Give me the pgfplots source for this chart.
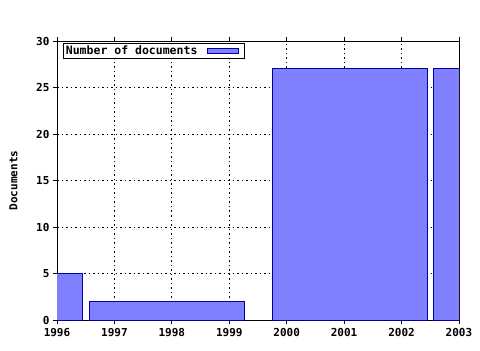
\documentclass[border=0pt]{standalone}
\usepackage{fontspec}
\setmainfont{DejaVu Sans Mono}
\usepackage{pgfplots}
\pgfplotsset{compat=1.18}
\definecolor{barfill}{RGB}{128,128,255}
\definecolor{barline}{RGB}{0,0,160}
\begin{document}
\begin{tikzpicture}
\begin{axis}[
  scale only axis,
  width=402pt, height=279pt,
  xmin=1996, xmax=2003, ymin=0, ymax=30,
  xtick={1996,1997,...,2003},
  ytick={0,5,...,30},
  minor x tick num=6,
  xticklabel style={/pgf/number format/1000 sep={}},
  /pgf/number format/assume math mode=true,
  tick label style={font=\bfseries\fontsize{11}{12}\selectfont},
  label style={font=\bfseries\fontsize{11}{12}\selectfont},
  tick align=outside,
  xtick pos=both, ytick pos=left,
  major tick length=4pt, minor tick length=2.5pt,
  every tick/.style={black, line width=0.8pt},
  axis line style={black, line width=0.8pt},
  grid=major,
  major grid style={black, line width=0.8pt, dash pattern=on 1.5pt off 3pt},
  ylabel={Documents},
  ylabel style={at={(axis description cs:0,0.5)}, anchor=south, yshift=36pt},
  xticklabel style={yshift=-1pt},
  legend style={at={(axis cs:1996.12,29.7)}, anchor=north west, draw=black, line width=0.8pt,
    font=\bfseries\fontsize{11.5}{12}\selectfont, inner sep=0pt, outer sep=0pt,
    legend cell align=left},
  legend plot pos=right,
  legend image code/.code={\path (0pt,0pt); \draw[fill=barfill, draw=barline, line width=0.8pt] (8pt,-2.5pt) rectangle (39pt,2.5pt); \path (44pt,0pt);},
]
\addplot[ybar, bar width=2.7, bar shift=0pt, fill=barfill, draw=barline, line width=0.8pt]
  coordinates {(1995.1,5) (1997.91,2) (2001.1,27) (2003.9,27)};
\addlegendentry{Number of documents}
\end{axis}
\path[use as bounding box] ([xshift=-57pt,yshift=-30pt]current axis.south west) rectangle ([xshift=21pt,yshift=41pt]current axis.north east);
\end{tikzpicture}
\end{document}
